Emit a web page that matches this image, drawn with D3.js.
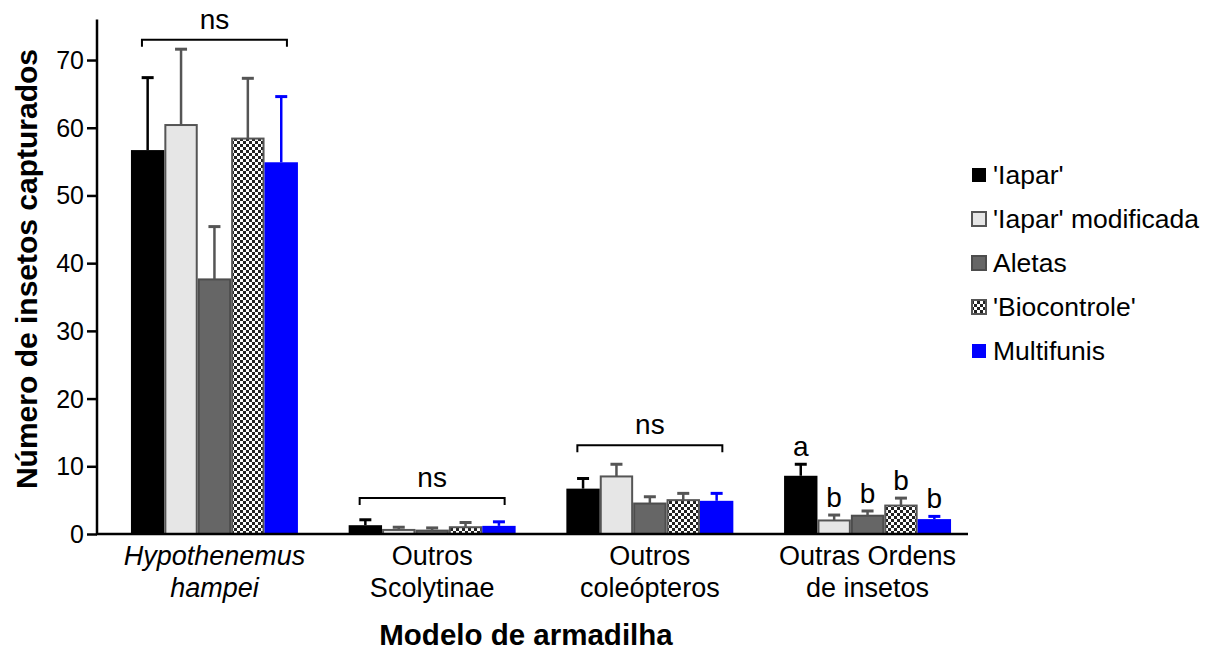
<!DOCTYPE html>
<html>
<head>
<meta charset="utf-8">
<script src="https://cdn.jsdelivr.net/npm/d3@7"></script>
<style>
  body { margin: 0; background: #fff; }
  svg text { font-family: "Liberation Sans", Arial, sans-serif; fill: #000; }
</style>
</head>
<body>
<div id="chart"></div>
<script>
// Data
const categories = ["Hypothenemus hampei", "Outros Scolytinae", "Outros coleópteros", "Outras Ordens de insetos"];
const categoryLines = [["Hypothenemus", "hampei"], ["Outros", "Scolytinae"], ["Outros", "coleópteros"], ["Outras Ordens", "de insetos"]];
const series = ["'Iapar'", "'Iapar' modificada", "Aletas", "'Biocontrole'", "Multifunis"];

// mean per category, one array per series
const iaparMean     = [56.7, 1.3, 6.7, 8.6];
const iaparModMean  = [60.4, 0.6, 8.5, 2.0];
const aletasMean    = [37.6, 0.5, 4.5, 2.7];
const biocontMean   = [58.4, 1.0, 5.0, 4.2];
const multifunMean  = [54.9, 1.2, 4.9, 2.2];

// upper end of error bar
const iaparErr      = [67.4, 2.1, 8.2, 10.3];
const iaparModErr   = [71.6, 1.0, 10.3, 2.8];
const aletasErr     = [45.4, 0.9, 5.5, 3.4];
const biocontErr    = [67.3, 1.7, 6.0, 5.3];
const multifunErr   = [64.6, 1.8, 6.0, 2.6];

const yTicks = [0, 10, 20, 30, 40, 50, 60, 70];

// significance
const bracketCats = ["Hypothenemus hampei", "Outros Scolytinae", "Outros coleópteros"];
const bracketLevels = [73.0, 5.3, 13.1];
const letterCat = "Outras Ordens de insetos";
const letters = ["a", "b", "b", "b", "b"];

const means = [iaparMean, iaparModMean, aletasMean, biocontMean, multifunMean];
const errs = [iaparErr, iaparModErr, aletasErr, biocontErr, multifunErr];

const fills = ["#000000", "#e6e6e6", "#666666", "url(#checker)", "#0000ff"];
const strokes = ["#000000", "#555555", "#4d4d4d", "#555555", "#0000ff"];
const errColors = ["#000000", "#555555", "#555555", "#555555", "#0000ff"];

const data = [];
categories.forEach((c, ci) => {
    series.forEach((s, si) => {
        data.push({ cat: c, ser: s, si: si, mean: means[si][ci], err: errs[si][ci] });
    });
});

const W = 1211, H = 650;
const svg = d3.select("#chart").append("svg")
    .attr("width", W).attr("height", H);

const defs = svg.append("defs");
const pat = defs.append("pattern")
    .attr("id", "checker")
    .attr("patternUnits", "userSpaceOnUse")
    .attr("width", 6).attr("height", 6);
pat.append("rect").attr("width", 6).attr("height", 6).attr("fill", "#fff");
pat.append("rect").attr("width", 3).attr("height", 3).attr("fill", "#222");
pat.append("rect").attr("x", 3).attr("y", 3).attr("width", 3).attr("height", 3).attr("fill", "#222");

// scales
const yScale = d3.scaleLinear().domain([0, 76]).range([534, 19.4]);
const x0 = d3.scaleBand().domain(categories).range([105.7, 976.3])
    .paddingInner(0.233).paddingOuter(0.116);
const x1 = d3.scaleBand().domain(series).range([0, x0.bandwidth()]);

const axisLeft = 97, axisRight = 968;

// bars
svg.append("g").selectAll("rect")
    .data(data)
    .join("rect")
    .attr("x", d => x0(d.cat) + x1(d.ser) + (d.si === 0 || d.si === 4 ? 0 : 1))
    .attr("width", d => x1.bandwidth() - (d.si === 0 || d.si === 4 ? 0 : 2))
    .attr("y", d => yScale(d.mean))
    .attr("height", d => yScale(0) - yScale(d.mean))
    .attr("fill", d => fills[d.si])
    .attr("stroke", d => (d.si === 0 || d.si === 4) ? "none" : strokes[d.si])
    .attr("stroke-width", 2);

// error bars
const eb = svg.append("g").selectAll("g")
    .data(data)
    .join("g")
    .attr("stroke", d => errColors[d.si])
    .attr("stroke-width", 2.5);
eb.append("line")
    .attr("x1", d => x0(d.cat) + x1(d.ser) + x1.bandwidth() / 2)
    .attr("x2", d => x0(d.cat) + x1(d.ser) + x1.bandwidth() / 2)
    .attr("y1", d => yScale(d.mean))
    .attr("y2", d => yScale(d.err));
eb.append("line")
    .attr("x1", d => x0(d.cat) + x1(d.ser) + x1.bandwidth() / 2 - 6)
    .attr("x2", d => x0(d.cat) + x1(d.ser) + x1.bandwidth() / 2 + 6)
    .attr("y1", d => yScale(d.err))
    .attr("y2", d => yScale(d.err))
    .attr("stroke-width", 3);

// y axis
const yAxis = svg.append("g")
    .attr("transform", `translate(${axisLeft},0)`)
    .call(d3.axisLeft(yScale).tickValues(yTicks).tickSize(10).tickPadding(3));
yAxis.select(".domain").attr("stroke", "#000").attr("stroke-width", 2.5)
    .attr("d", `M0,${yScale(76)}V${yScale(0)}`);
yAxis.selectAll(".tick line").attr("stroke", "#000").attr("stroke-width", 2.5);
yAxis.selectAll(".tick text").attr("font-size", 25).attr("dy", "0.34em")
    .style("font-family", "'Liberation Sans', Arial, sans-serif").attr("fill", "#000");

// x axis
const xAxis = svg.append("g")
    .attr("transform", `translate(0,${yScale(0)})`)
    .call(d3.axisBottom(x0).tickSize(0).tickFormat(""));
xAxis.select(".domain").attr("stroke", "#000").attr("stroke-width", 2.5)
    .attr("d", `M${axisLeft - 1},0H${axisRight}`);

const xl = svg.append("g").selectAll("text")
    .data(categories)
    .join("text")
    .attr("text-anchor", "middle")
    .attr("font-size", 27)
    .attr("font-style", (d, i) => i === 0 ? "italic" : "normal")
    .attr("transform", d => `translate(${x0(d) + x0.bandwidth() / 2},565)`);
xl.each(function(d, i) {
    const t = d3.select(this);
    categoryLines[i].forEach((line, li) => {
        t.append("tspan").attr("x", 0).attr("y", li * 32).text(line);
    });
});

// axis titles
svg.append("text")
    .attr("x", 526).attr("y", 645)
    .attr("text-anchor", "middle")
    .attr("font-size", 29.5).attr("font-weight", "bold")
    .text("Modelo de armadilha");

svg.append("text")
    .attr("transform", "translate(37,269) rotate(-90)")
    .attr("text-anchor", "middle")
    .attr("font-size", 30).attr("font-weight", "bold")
    .text("Número de insetos capturados");

// ns brackets
const br = svg.append("g").selectAll("g")
    .data(bracketCats)
    .join("g");
br.append("path")
    .attr("fill", "none").attr("stroke", "#000").attr("stroke-width", 2)
    .attr("d", (d, i) => {
        const xa = x0(d) + 11, xb = x0(d) + x0.bandwidth() - 11, yy = yScale(bracketLevels[i]);
        return `M${xa},${yy + 7}V${yy}H${xb}V${yy + 7}`;
    });
br.append("text")
    .attr("x", d => x0(d) + x0.bandwidth() / 2)
    .attr("y", (d, i) => yScale(bracketLevels[i]) - 11)
    .attr("text-anchor", "middle")
    .attr("font-size", 28)
    .text("ns");

// letters
svg.append("g").selectAll("text")
    .data(series)
    .join("text")
    .attr("x", d => x0(letterCat) + x1(d) + x1.bandwidth() / 2)
    .attr("y", (d, i) => yScale(errs[i][3]) - 8)
    .attr("text-anchor", "middle")
    .attr("font-size", 28)
    .text((d, i) => letters[i]);

// legend
const legend = svg.append("g").attr("transform", "translate(971,175)");
const li = legend.selectAll("g")
    .data(series)
    .join("g")
    .attr("transform", (d, i) => `translate(0,${i * 44})`);
li.append("rect")
    .attr("x", 1).attr("y", -7)
    .attr("width", 14).attr("height", 14)
    .attr("fill", (d, i) => fills[i])
    .attr("stroke", (d, i) => (i === 0 || i === 4) ? "none" : strokes[i])
    .attr("stroke-width", 2);
li.append("text")
    .attr("x", 22).attr("y", 9)
    .attr("font-size", 26.5)
    .text(d => d);
</script>
</body>
</html>
